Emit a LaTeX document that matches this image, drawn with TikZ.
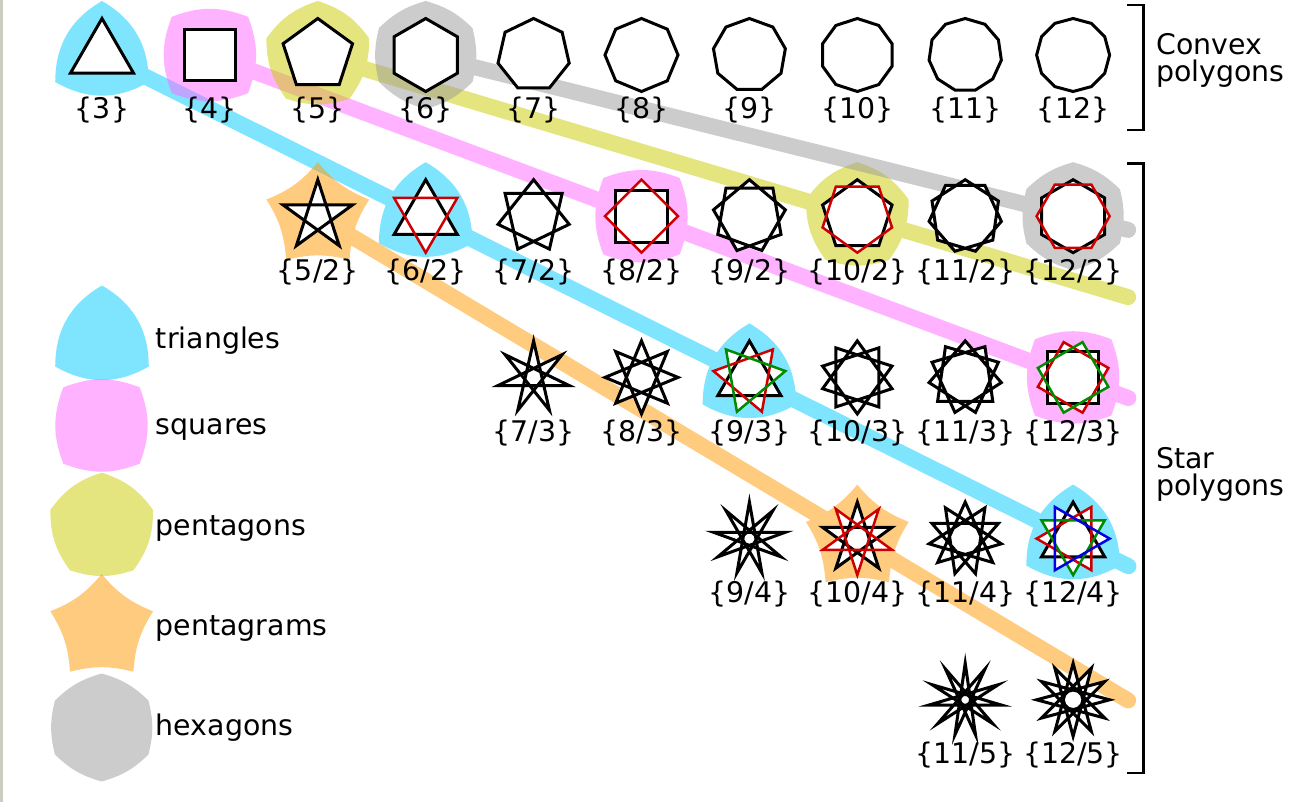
\documentclass[tikz,border=0pt]{standalone}
\usepackage{fontspec}
\setmainfont{DejaVu Sans}
\usepackage{tikz}
\usetikzlibrary{calc}

\definecolor{tricol}{RGB}{0,204,255}
\definecolor{sqcol}{RGB}{255,102,255}
\definecolor{pentcol}{RGB}{204,204,0}
\definecolor{starcol}{RGB}{255,153,0}
\definecolor{hexcol}{RGB}{153,153,153}
\definecolor{linered}{RGB}{204,0,0}
\definecolor{linegreen}{RGB}{0,140,0}
\definecolor{lineblue}{RGB}{0,0,225}
\definecolor{edgegray}{RGB}{204,204,192}

% curved blob: centre, corners, start angle, bend, colour
\newcommand{\blob}[5]{%
  \fill[#5, shift={(#1)}] (#3:54) \foreach \k in {1,...,#2} { to[#4] ({#3+\k*360/#2}:54) } -- cycle;}

\begin{document}
\begin{tikzpicture}[x=0.5pt, y=0.5pt,
  poly/.style={line join=miter},
  band/.style={line width=8pt, line cap=round},
  bracket/.style={line width=1.35pt},
  lbl/.style={font=\fontsize{14.2pt}{16pt}\selectfont, inner sep=0pt}]
\useasboundingbox (0,0) rectangle (1304,-802);
\fill[edgegray] (0,0) rectangle (3,-802);

% centres of the figures
\foreach \q in {1,...,5} {
  \pgfmathtruncatemacro\first{2*\q+1}
  \foreach \n in {\first,...,12}
    \coordinate (p\n-\q) at ({102+(\n-3)*107.9}, {-55-(\q-1)*161.2});
}
\coordinate (k-tri) at (102,-339.5);
\coordinate (k-sq) at (101.5,-425.5);
\coordinate (k-pent) at (101.7,-526.6);
\coordinate (k-star) at (101.7,-628);
\coordinate (k-hex) at (101.7,-727.5);
\coordinate (tri-end) at ($(p3-1)!1.057!(p12-4)$);
\coordinate (sq-end) at ($(p4-1)!1.064!(p12-3)$);
\coordinate (pent-end) at ($(p5-1)!1.502!(p10-2)$);
\coordinate (hex-end) at ($(p6-1)!1.085!(p12-2)$);
\coordinate (star-end) at ($(p5-2)!1.502!(p10-4)$);

% families
\begin{scope}[transparency group, opacity=0.5]
\draw[band, tricol] (p3-1) -- (tri-end);
\blob{p3-1}{3}{90}{bend right=30}{tricol}
\blob{p6-2}{3}{90}{bend right=30}{tricol}
\blob{p9-3}{3}{90}{bend right=30}{tricol}
\blob{p12-4}{3}{90}{bend right=30}{tricol}
\blob{k-tri}{3}{90}{bend right=30}{tricol}
\end{scope}
\begin{scope}[transparency group, opacity=0.5]
\draw[band, sqcol] (p4-1) -- (sq-end);
\blob{p4-1}{4}{45}{bend right=21}{sqcol}
\blob{p8-2}{4}{45}{bend right=21}{sqcol}
\blob{p12-3}{4}{45}{bend right=21}{sqcol}
\blob{k-sq}{4}{45}{bend right=21}{sqcol}
\end{scope}
\begin{scope}[transparency group, opacity=0.5]
\draw[band, pentcol] (p5-1) -- (pent-end);
\blob{p5-1}{5}{90}{bend right=18}{pentcol}
\blob{p10-2}{5}{90}{bend right=18}{pentcol}
\blob{k-pent}{5}{90}{bend right=18}{pentcol}
\end{scope}
\begin{scope}[transparency group, opacity=0.5]
\draw[band, hexcol] (p6-1) -- (hex-end);
\blob{p6-1}{6}{90}{bend right=14}{hexcol}
\blob{p12-2}{6}{90}{bend right=14}{hexcol}
\blob{k-hex}{6}{90}{bend right=14}{hexcol}
\end{scope}
\begin{scope}[transparency group, opacity=0.5]
\draw[band, starcol] (p5-2) -- (star-end);
\blob{p5-2}{5}{90}{bend left=14}{starcol}
\blob{p10-4}{5}{90}{bend left=14}{starcol}
\blob{k-star}{5}{90}{bend left=14}{starcol}
\end{scope}

% polygons and stars
\foreach \q in {1,...,5} {
  \pgfmathtruncatemacro\first{2*\q+1}
  \foreach \n in {\first,...,12} {
    \pgfmathtruncatemacro\g{gcd(\n,\q)}
    \pgfmathtruncatemacro\mm{\n/\g-1}
    \pgfmathsetmacro\st{360*\q/\n}
    \pgfmathsetmacro\base{(\n/\g==4) ? 45 : 90}
    \begin{scope}[shift={(p\n-\q)}]
      \foreach \k in {1,...,\g} {
        \pgfmathsetmacro\ang{\base-(\k-1)*360/\n}
        \fill[white] (\ang:36.5) \foreach \i in {1,...,\mm} { -- ({\ang+\i*\st}:36.5) } -- cycle;
      }
      \foreach \k/\col/\w in {1/black/1.5,2/linered/1.25,3/linegreen/1.25,4/lineblue/1.25} {
        \ifnum\k>\g\relax\else
          \pgfmathsetmacro\ang{\base-(\k-1)*360/\n}
          \draw[poly, \col, line width=\w pt] (\ang:36.5) \foreach \i in {1,...,\mm} { -- ({\ang+\i*\st}:36.5) } -- cycle;
        \fi
      }
    \end{scope}
    \ifnum\q=1
      \node[lbl, anchor=base] (l\n-\q) at ($(p\n-\q)+(0,-64)$) {\{\n\}};
    \else
      \node[lbl, anchor=base] (l\n-\q) at ($(p\n-\q)+(0,-64)$) {\{\n/\q\}};
    \fi
  }
}

% legend
\node[lbl, anchor=base west] (t-tri) at (155.5,-348) {triangles};
\node[lbl, anchor=base west] (t-sq) at (155.5,-434) {squares};
\node[lbl, anchor=base west] (t-pent) at (155.5,-535) {pentagons};
\node[lbl, anchor=base west] (t-star) at (155.5,-635) {pentagrams};
\node[lbl, anchor=base west] (t-hex) at (155.5,-735) {hexagons};

% brackets
\draw[bracket] (1127,-5) -- (1143.5,-5) -- (1143.5,-130) -- (1127,-130);
\draw[bracket] (1127,-163.5) -- (1143.5,-163.5) -- (1143.5,-773) -- (1127,-773);
\node[lbl, anchor=base west] (convex) at (1156,-55) {Convex};
\node[lbl, anchor=base west] (convex-b) at (1156,-81.7) {polygons};
\node[lbl, anchor=base west] (star) at (1156,-468.3) {Star};
\node[lbl, anchor=base west] (star-b) at (1156,-495) {polygons};
\end{tikzpicture}
\end{document}
